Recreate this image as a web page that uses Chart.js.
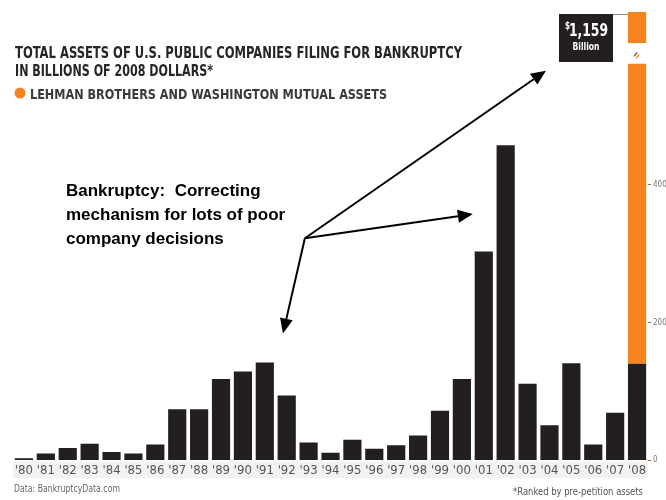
<!DOCTYPE html>
<html>
<head>
<meta charset="utf-8">
<script src="https://cdn.jsdelivr.net/npm/chart.js@4.4.1/dist/chart.umd.min.js"></script>
<style>
  html, body { margin: 0; padding: 0; background: #fff; }
  #chart { display: block; }
</style>
</head>
<body>
<canvas id="chart" width="666" height="500"></canvas>
<script>
// Total assets of U.S. public companies filing for bankruptcy, billions of 2008 dollars
const years = ["'80", "'81", "'82", "'83", "'84", "'85", "'86", "'87", "'88", "'89",
  "'90", "'91", "'92", "'93", "'94", "'95", "'96", "'97", "'98", "'99",
  "'00", "'01", "'02", "'03", "'04", "'05", "'06", "'07", "'08"];
const otherAssets = [3, 10, 18, 24, 12, 10, 23, 74, 74, 118,
  129, 142, 94, 26, 11, 30, 17, 22, 36, 72,
  118, 303, 457, 111, 51, 141, 23, 69, 140];
const lehmanWamuAssets = [null, null, null, null, null, null, null, null, null, null,
  null, null, null, null, null, null, null, null, null, null,
  null, null, null, null, null, null, null, null, 1019];
const yTicks = [0, 200, 400];
const total2008 = '1,159';

const NARROW = '"Liberation Sans Narrow", "DejaVu Sans Condensed", "Arial Narrow", sans-serif';
const ARIAL = '"Liberation Sans", Arial, sans-serif';
const BLACK = '#231f20';
const ORANGE = '#f5841f';

// the orange bar runs off the scale; a gap marks the break
const breakFrom = 575;
const breakTo = 605;

// draw text squeezed/stretched to a given width (condensed face is not installed)
function fitTxt(ctx, s, x, y, font, color, width, align) {
  ctx.save();
  ctx.font = font;
  ctx.fillStyle = color;
  ctx.textAlign = 'left';
  ctx.textBaseline = 'alphabetic';
  const k = width / ctx.measureText(s).width;
  const left = align === 'right' ? x - width : align === 'center' ? x - width / 2 : x;
  ctx.translate(left, y);
  ctx.scale(k, 1);
  ctx.fillText(s, 0, 0);
  ctx.restore();
}

function txt(ctx, s, x, y, font, color) {
  ctx.font = font;
  ctx.fillStyle = color;
  ctx.textAlign = 'left';
  ctx.textBaseline = 'alphabetic';
  ctx.fillText(s, x, y);
}

function arrow(ctx, x0, y0, x1, y1) {
  const a = Math.atan2(y1 - y0, x1 - x0);
  const len = 15, half = 6.5;
  const bx = x1 - len * Math.cos(a), by = y1 - len * Math.sin(a);
  ctx.beginPath();
  ctx.moveTo(x0, y0);
  ctx.lineTo(bx, by);
  ctx.stroke();
  ctx.beginPath();
  ctx.moveTo(x1, y1);
  ctx.lineTo(bx + half * Math.sin(a), by - half * Math.cos(a));
  ctx.lineTo(bx - half * Math.sin(a), by + half * Math.cos(a));
  ctx.closePath();
  ctx.fill();
}

const decor = {
  id: 'decor',
  beforeDraw(chart) {
    const { ctx, chartArea: ca } = chart;
    ctx.save();
    ctx.fillStyle = '#fff';
    ctx.fillRect(0, 0, chart.width, chart.height);
    ctx.fillStyle = '#f2f2f2';
    ctx.fillRect(ca.left, ca.bottom + 1, ca.right - ca.left, 17);
    ctx.restore();
  },
  afterDatasetsDraw(chart) {
    const { ctx } = chart;
    const x = chart.scales.x, y = chart.scales.y;
    const bar = chart.getDatasetMeta(1).data[years.length - 1];
    const bl = bar.x - bar.width / 2, br = bar.x + bar.width / 2;
    ctx.save();

    // axis break on the 2008 bar
    const g0 = y.getPixelForValue(breakTo), g1 = y.getPixelForValue(breakFrom);
    ctx.fillStyle = '#fff';
    ctx.fillRect(bl - 1, g0, br - bl + 2, g1 - g0);
    const cy = (g0 + g1) / 2 + 2;
    ctx.lineWidth = 1.3;
    ctx.strokeStyle = '#555';
    ctx.beginPath(); ctx.moveTo(bar.x - 3, cy + 1); ctx.lineTo(bar.x, cy - 3); ctx.stroke();
    ctx.strokeStyle = ORANGE;
    ctx.beginPath(); ctx.moveTo(bar.x - 1, cy + 3); ctx.lineTo(bar.x + 2, cy - 1); ctx.stroke();

    // $1,159 billion box
    const bx = 559, by = 14, bw = 54, bh = 48;
    ctx.strokeStyle = '#8a8a8a';
    ctx.lineWidth = 1;
    ctx.beginPath(); ctx.moveTo(bx, by + 0.5); ctx.lineTo(bl, by + 0.5); ctx.stroke();
    ctx.fillStyle = BLACK;
    ctx.fillRect(bx, by, bw, bh);
    fitTxt(ctx, '$', bx + 6, by + 15, 'bold 10px ' + NARROW, '#fff', 5);
    fitTxt(ctx, total2008, bx + 10, by + 22, 'bold 18px ' + NARROW, '#fff', 39);
    fitTxt(ctx, 'Billion', bx + bw / 2, by + 36, 'bold 11px ' + NARROW, '#fff', 27, 'center');

    // titles and legend
    fitTxt(ctx, 'TOTAL ASSETS OF U.S. PUBLIC COMPANIES FILING FOR BANKRUPTCY', 15, 58, 'bold 16px ' + NARROW, '#262626', 447);
    fitTxt(ctx, 'IN BILLIONS OF 2008 DOLLARS*', 15, 76, 'bold 16px ' + NARROW, '#262626', 198);
    ctx.fillStyle = ORANGE;
    ctx.beginPath(); ctx.arc(20, 93, 5.5, 0, Math.PI * 2); ctx.fill();
    fitTxt(ctx, 'LEHMAN BROTHERS AND WASHINGTON MUTUAL ASSETS', 30, 99, 'bold 14px ' + NARROW, '#3a3a3a', 357);

    // annotation
    const note = ['Bankruptcy:  Correcting', 'mechanism for lots of poor', 'company decisions'];
    note.forEach((s, i) => txt(ctx, s, 66, 196 + i * 24, 'bold 17px ' + ARIAL, '#000'));
    const ox = x.getPixelForValue(12.83), oy = y.getPixelForValue(322);
    ctx.strokeStyle = '#000';
    ctx.fillStyle = '#000';
    ctx.lineWidth = 2;
    arrow(ctx, ox, oy, x.getPixelForValue(23.84), y.getPixelForValue(565));
    arrow(ctx, ox, oy, x.getPixelForValue(20.5), y.getPixelForValue(357));
    arrow(ctx, ox, oy, x.getPixelForValue(11.83), y.getPixelForValue(184));

    // footer
    fitTxt(ctx, 'Data: BankruptcyData.com', 14, 492, '10px ' + NARROW, '#666', 106);
    fitTxt(ctx, '*Ranked by pre-petition assets', 643, 495, '10px ' + NARROW, '#555', 130, 'right');
    ctx.restore();
  }
};

new Chart(document.getElementById('chart'), {
  type: 'bar',
  data: {
    labels: years,
    datasets: [
      { label: 'Other companies', data: otherAssets, backgroundColor: BLACK,
        barPercentage: 0.83, categoryPercentage: 1 },
      { label: 'Lehman Brothers and Washington Mutual', data: lehmanWamuAssets, backgroundColor: ORANGE,
        barPercentage: 0.83, categoryPercentage: 1, clip: 0 },
    ],
  },
  options: {
    responsive: false,
    animation: false,
    layout: { padding: { left: 13, right: 0, top: 12, bottom: 20 } },
    plugins: { legend: { display: false }, tooltip: { enabled: false } },
    scales: {
      x: {
        stacked: true,
        grid: { display: false, drawTicks: false },
        border: { display: false },
        ticks: { color: '#555', font: { family: NARROW, size: 13 }, padding: 2, maxRotation: 0, autoSkip: false },
      },
      y: {
        stacked: true,
        position: 'right',
        min: 0,
        max: 650,
        afterBuildTicks: (axis) => { axis.ticks = yTicks.map((v) => ({ value: v })); },
        afterFit: (axis) => { axis.width = 18; },
        grid: { drawOnChartArea: false, drawTicks: true, tickLength: 3, color: '#b8621c' },
        border: { display: false },
        ticks: { color: '#777', font: { family: NARROW, size: 8 }, padding: 2 },
      },
    },
  },
  plugins: [decor],
});
</script>
</body>
</html>
